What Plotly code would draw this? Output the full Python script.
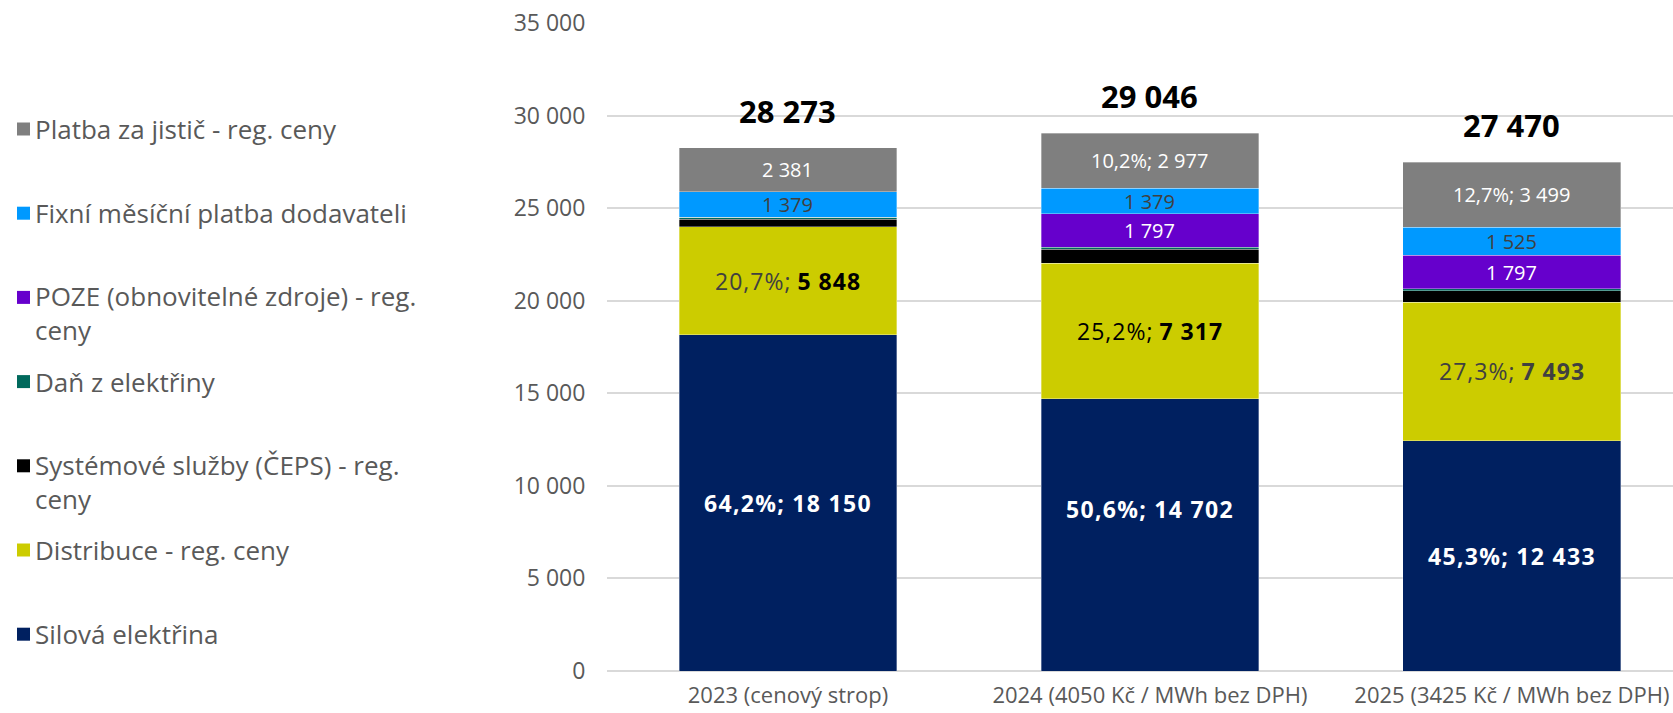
import plotly.graph_objects as go

categories = ["2023 (cenový strop)", "2024 (4050 Kč / MWh bez DPH)", "2025 (3425 Kč / MWh bez DPH)"]

silova = [18150, 14702, 12433]
distribuce = [5848, 7317, 7493]
systemove = [412, 771, 620]
dan = [103, 103, 103]
poze = [0, 1797, 1797]
fixni = [1379, 1379, 1525]
jistic = [2381, 2977, 3499]

series_names = [
    "Silová elektřina",
    "Distribuce - reg. ceny",
    "Systémové služby (ČEPS) - reg. ceny",
    "Daň z elektřiny",
    "POZE (obnovitelné zdroje) - reg. ceny",
    "Fixní měsíční platba dodavateli",
    "Platba za jistič - reg. ceny",
]
series_values = [silova, distribuce, systemove, dan, poze, fixni, jistic]
series_colors = ["#002060", "#CCCC00", "#000000", "#00695C", "#6600CC", "#0099FF", "#7F7F7F"]

# legend label lines (wrapped like the original)
legend_lines = {
    "POZE (obnovitelné zdroje) - reg. ceny": ["POZE (obnovitelné zdroje) - reg.", "ceny"],
    "Systémové služby (ČEPS) - reg. ceny": ["Systémové služby (ČEPS) - reg.", "ceny"],
}

FONT = "Open Sans"
W, H = 1673, 713
L, R, T, B = 607, 0, 23, 42

totals = [sum(v[i] for v in series_values) for i in range(len(categories))]


def fmt(v):
    return f"{v:,}".replace(",", " ")


def pct(v, t):
    return f"{100 * v / t:.1f}".replace(".", ",") + "%"


def spaced(s, ls):
    return f"<span style='letter-spacing:{ls}px'>{s}</span>"


fig = go.Figure()
for name, vals, col in zip(series_names, series_values, series_colors):
    fig.add_trace(go.Bar(
        x=categories, y=vals, name=name,
        marker=dict(color=col, line=dict(width=0.6, color="rgba(255,255,255,0.55)")),
        showlegend=False, hoverinfo="x+y+name",
    ))

annotations = []
# segment labels
for i, cat in enumerate(categories):
    base = 0
    t = totals[i]
    for s, (name, vals) in enumerate(zip(series_names, series_values)):
        v = vals[i]
        mid = base + v / 2
        base += v
        text = None
        yshift = 0
        size = 20
        if s == 0:
            text = "<b>" + spaced(f"{pct(v, t)}; {fmt(v)}", 1.3) + "</b>"
            color = "white"
            size = 23
            if i == 1:
                yshift = 26
        elif s == 1:
            vcol = "#404040" if i == 2 else "#000000"
            pcol = "#000000" if i == 1 else "#404040"
            text = (f"<span style='color:{pcol};letter-spacing:1px'>{pct(v, t)};</span> "
                    f"<b><span style='color:{vcol};letter-spacing:1px'>{fmt(v)}</span></b>")
            color = "#404040"
            size = 23
        elif s == 4 and v > 0:
            text = fmt(v)
            color = "white"
        elif s == 5:
            text = fmt(v)
            color = "#404040"
        elif s == 6:
            text = fmt(v) if i == 0 else f"{pct(v, t)}; {fmt(v)}"
            color = "white"
        if text:
            annotations.append(dict(
                x=cat, y=mid, xref="x", yref="y", text=text, showarrow=False,
                font=dict(family=FONT, size=size, color=color), yshift=yshift,
            ))
    # total label
    annotations.append(dict(
        x=cat, y=t, xref="x", yref="y", text=f"<b>{fmt(t)}</b>", showarrow=False,
        font=dict(family=FONT, size=31, color="black"), yshift=37,
    ))

# custom legend (top entry = last series)
pw = W - L - R
ph = H - T - B


def px_x(px):
    return (px - L) / pw


def px_y(py):
    return 1 - (py - T) / ph


shapes = []
row0, step, line_h = 129, 84.2, 32
for k, (name, col) in enumerate(zip(series_names[::-1], series_colors[::-1])):
    yc = row0 + k * step
    shapes.append(dict(type="rect", xref="paper", yref="paper",
                       x0=px_x(17), x1=px_x(30), y0=px_y(yc + 6.5), y1=px_y(yc - 6.5),
                       fillcolor=col, line=dict(width=0)))
    lines = legend_lines.get(name, [name])
    annotations.append(dict(
        x=px_x(33), y=px_y(yc + (len(lines) - 1) * line_h / 2), xref="paper", yref="paper",
        xanchor="left", yanchor="middle", align="left", text="<br>".join(lines), showarrow=False,
        font=dict(family=FONT, size=26, color="#595959"),
    ))

fig.update_layout(
    width=W, height=H,
    margin=dict(l=L, r=R, t=T, b=B, pad=0, autoexpand=False),
    barmode="stack", bargap=0.398,
    plot_bgcolor="white", paper_bgcolor="white",
    separators=", ",
    annotations=annotations, shapes=shapes,
    font=dict(family=FONT, color="#595959"),
    xaxis=dict(range=[-0.5, 2.445], tickangle=0, showgrid=False, automargin=False,
               ticks="outside", ticklen=5, tickcolor="rgba(0,0,0,0)",
               tickfont=dict(family=FONT, size=22, color="#595959"),
               showline=False, zeroline=False),
    yaxis=dict(range=[0, 35000], dtick=5000, tickformat=",d", automargin=False,
               showgrid=True, gridcolor="#D9D9D9", gridwidth=1.5,
               zeroline=True, zerolinecolor="#D9D9D9", zerolinewidth=1.5,
               ticks="outside", ticklen=16, tickcolor="rgba(0,0,0,0)",
               tickfont=dict(family=FONT, size=23, color="#595959")),
)

fig.write_html("out.html", config={"displayModeBar": False},
               post_script="document.body.style.margin='0';")
